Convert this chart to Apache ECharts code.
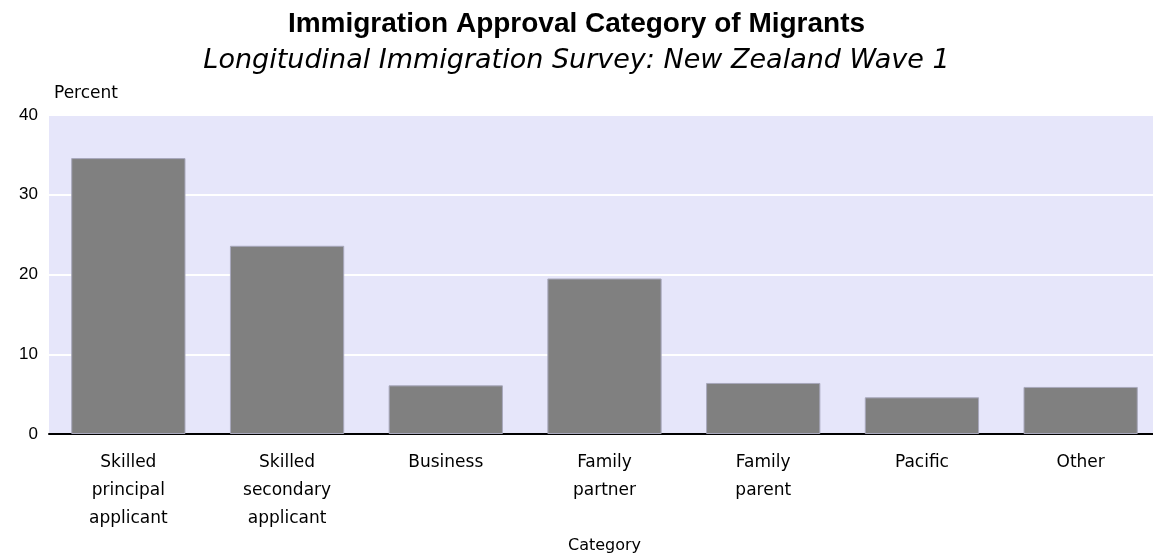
<!DOCTYPE html>
<html>
<head>
<meta charset="utf-8">
<script src="https://cdn.jsdelivr.net/npm/echarts@6/dist/echarts.min.js"></script>
<style>
  html, body { margin: 0; padding: 0; background: #fff; }
  #chart { width: 1153px; height: 555px; }
</style>
</head>
<body>
<div id="chart"></div>
<script>
  // categories and values
  var categories = [
    'Skilled\nprincipal\napplicant',
    'Skilled\nsecondary\napplicant',
    'Business',
    'Family\npartner',
    'Family\nparent',
    'Pacific',
    'Other'
  ]
  var percents = [34.6, 23.6, 6.1, 19.5, 6.4, 4.6, 5.9]
  var yTicks = [0, 10, 20, 30, 40]

  var chart = echarts.init(document.getElementById('chart'))
  var option = {
    animation: false,
    backgroundColor: '#ffffff',
    title: {
      text: 'Immigration Approval Category of Migrants',
      subtext: 'Longitudinal Immigration Survey: New Zealand Wave 1',
      left: 'center',
      top: 5,
      itemGap: 9,
      textStyle: {
        fontFamily: 'Liberation Sans',
        fontWeight: 'bold',
        fontSize: 28,
        color: '#000'
      },
      subtextStyle: {
        fontFamily: 'DejaVu Sans',
        fontStyle: 'italic',
        fontSize: 27,
        color: '#000'
      }
    },
    grid: {
      left: 49,
      right: -7,
      top: 115,
      bottom: 121,
      show: true,
      backgroundColor: '#e6e6fa',
      borderWidth: 0,
      containLabel: false,
      outerBoundsMode: 'none'
    },
    xAxis: {
      type: 'category',
      data: categories,
      name: 'Category',
      nameLocation: 'middle',
      nameGap: 102,
      nameTextStyle: { fontFamily: 'DejaVu Sans', fontSize: 16, color: '#000' },
      axisLine: { lineStyle: { color: '#000', width: 2 } },
      axisTick: { show: false },
      axisLabel: {
        fontFamily: 'DejaVu Sans',
        fontSize: 17,
        color: '#000',
        margin: 15,
        lineHeight: 28,
        interval: 0
      }
    },
    yAxis: {
      type: 'value',
      min: yTicks[0],
      max: yTicks[yTicks.length - 1],
      interval: 10,
      name: 'Percent',
      nameLocation: 'end',
      nameGap: 13,
      nameTextStyle: {
        fontFamily: 'DejaVu Sans',
        fontSize: 17,
        color: '#000',
        align: 'left',
        padding: [0, 0, 0, 5]
      },
      axisLine: { show: false },
      axisTick: { show: false },
      axisLabel: {
        fontFamily: 'Liberation Sans',
        fontSize: 17,
        color: '#000',
        margin: 11
      },
      splitLine: { lineStyle: { color: '#ffffff', width: 2 } }
    },
    series: [
      {
        name: 'Percent',
        type: 'bar',
        data: percents,
        barCategoryGap: '28%',
        itemStyle: {
          color: '#808080',
          borderColor: '#a8a8bc',
          borderWidth: 1
        }
      }
    ]
  }
  chart.setOption(option)
</script>
</body>
</html>
